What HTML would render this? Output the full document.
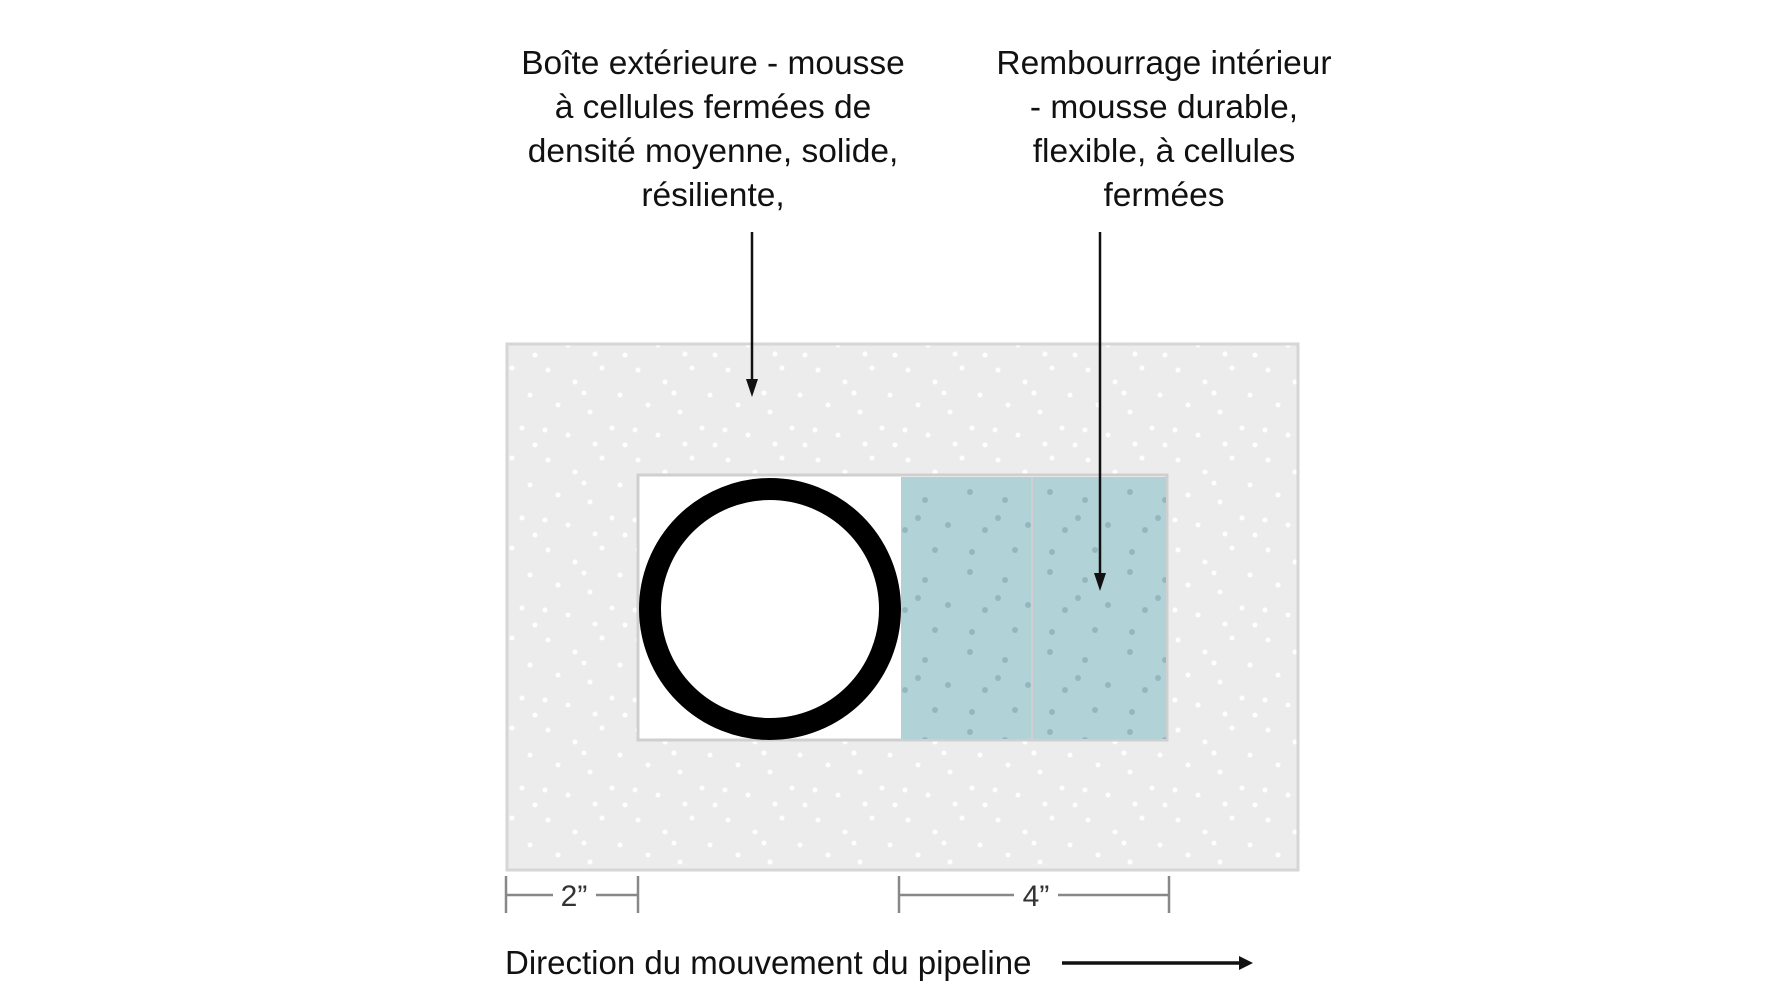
<!DOCTYPE html>
<html><head><meta charset="utf-8"><style>
html,body{margin:0;padding:0;background:#fff;}
body{width:1777px;height:1000px;position:relative;overflow:hidden;font-family:"Liberation Sans",sans-serif;color:#111;}
.t{position:absolute;text-align:center;font-size:33.5px;line-height:44px;white-space:nowrap;}
</style></head><body>
<div class="t" style="left:513px;width:400px;top:42px;">Boîte extérieure - mousse<br>à cellules fermées de<br>densité moyenne, solide,<br>résiliente,</div>
<div class="t" style="left:964px;width:400px;top:42px;">Rembourrage intérieur<br>- mousse durable,<br>flexible, à cellules<br>fermées</div>
<svg width="1777" height="1000" style="position:absolute;left:0;top:0">
<defs>
<pattern id="wd" width="90" height="90" patternUnits="userSpaceOnUse">
<rect width="90" height="90" fill="#ececec"/>
<g fill="#fff">
<circle cx="8" cy="10" r="2.5"/><circle cx="35" cy="22" r="2.5"/><circle cx="62" cy="8" r="2.5"/>
<circle cx="80" cy="35" r="2.5"/><circle cx="18" cy="45" r="2.5"/><circle cx="50" cy="52" r="2.5"/>
<circle cx="72" cy="68" r="2.5"/><circle cx="28" cy="75" r="2.5"/><circle cx="5" cy="70" r="2.5"/>
<circle cx="55" cy="84" r="2.5"/><circle cx="44" cy="33" r="2.5"/><circle cx="85" cy="85" r="2.5"/>
</g></pattern>
<pattern id="bd" width="80" height="80" patternUnits="userSpaceOnUse">
<rect width="80" height="80" fill="#b1d3d8"/>
<g fill="#92b8be">
<circle cx="10" cy="12" r="3"/><circle cx="45" cy="20" r="3"/><circle cx="68" cy="45" r="3"/>
<circle cx="25" cy="50" r="3"/><circle cx="55" cy="70" r="3"/><circle cx="12" cy="72" r="3"/>
<circle cx="38" cy="38" r="3"/>
</g></pattern>
</defs>
<rect x="507" y="344" width="791" height="526" fill="url(#wd)" stroke="#d6d6d6" stroke-width="3"/>
<rect x="638" y="475" width="529" height="265" fill="#fff" stroke="#cfcfcf" stroke-width="3"/>
<rect x="901" y="477" width="265" height="262" fill="url(#bd)"/>
<line x1="1032" y1="477" x2="1032" y2="739" stroke="#d0d0d0" stroke-width="2"/>
<circle cx="770" cy="609" r="120" fill="#fff" stroke="#000" stroke-width="22"/>
<g stroke="#111" stroke-width="2.5">
<line x1="752" y1="232" x2="752" y2="382"/>
<line x1="1100" y1="232" x2="1100" y2="577"/>
</g>
<polygon points="746,379 758,379 752,397" fill="#111"/>
<polygon points="1094,573 1106,573 1100,591" fill="#111"/>
<g stroke="#888" stroke-width="2.5">
<line x1="506" y1="876" x2="506" y2="913"/><line x1="638" y1="876" x2="638" y2="913"/>
<line x1="506" y1="895" x2="553" y2="895"/><line x1="596" y1="895" x2="638" y2="895"/>
<line x1="899" y1="876" x2="899" y2="913"/><line x1="1169" y1="876" x2="1169" y2="913"/>
<line x1="899" y1="895" x2="1014" y2="895"/><line x1="1058" y1="895" x2="1169" y2="895"/>
</g>
<text x="574" y="906" font-size="30" text-anchor="middle" fill="#333" font-family="Liberation Sans">2”</text>
<text x="1036" y="906" font-size="30" text-anchor="middle" fill="#333" font-family="Liberation Sans">4”</text>
<text x="505" y="974" font-size="33" fill="#111" font-family="Liberation Sans">Direction du mouvement du pipeline</text>
<line x1="1062" y1="963" x2="1243" y2="963" stroke="#111" stroke-width="3.5"/>
<polygon points="1239,956 1253,963 1239,970" fill="#111"/>
</svg>
</body></html>
